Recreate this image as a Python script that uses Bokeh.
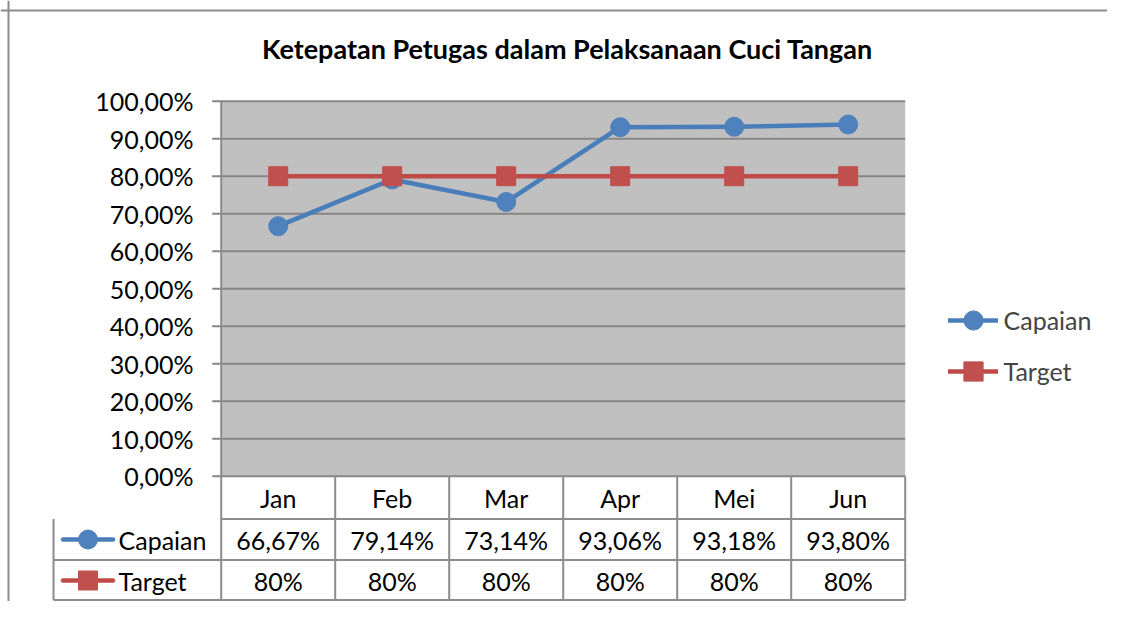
from bokeh.plotting import figure
from bokeh.models import Range1d, Label, Legend, LegendItem, Span
from bokeh.core.properties import value
from bokeh.embed import file_html
from bokeh.resources import INLINE

# ---------------- data ----------------
months = ["Jan", "Feb", "Mar", "Apr", "Mei", "Jun"]
capaian = [66.67, 79.14, 73.14, 93.06, 93.18, 93.80]
target = [80, 80, 80, 80, 80, 80]
y_ticks = [0, 10, 20, 30, 40, 50, 60, 70, 80, 90, 100]
series_names = ["Capaian", "Target"]
title_text = "Ketepatan Petugas dalam Pelaksanaan Cuci Tangan"


def pct2(v):
    return f"{v:.2f}%".replace(".", ",")


def pct0(v):
    return f"{v:.0f}%"


# ---------------- layout (screen px -> data units) ----------------
W, H = 1107, 601
COL = 114.0          # px per category column
FRAME_LEFT = 220.7   # screen x of plot-area left edge
PX_PER_PCT = 3.75    # px per 1 %
ZERO_Y = 475.7       # screen y of 0 %


def ux(px):
    return (px - FRAME_LEFT) / COL


def uy(py):
    return (ZERO_Y - py) / PX_PER_PCT


FONT = value("Lato")
FS = "25px"
GRID = "#868686"
BORDER = "#8C8C8C"
BLUE_L, BLUE_M = "#4A7EBB", "#4F81BD"
RED_L, RED_M = "#BE4B48", "#C0504D"

n = len(months)
xc = [i + 0.5 for i in range(n)]

p = figure(width=W, height=H,
           x_range=Range1d(ux(0), ux(W)), y_range=Range1d(uy(H), uy(0)),
           x_axis_type=None, y_axis_type=None, min_border=0,
           toolbar_location=None, output_backend="svg",
           outline_line_color=None)
p.background_fill_color = "white"
p.border_fill_color = "white"

# plot area
p.quad(left=[0], right=[n], bottom=[y_ticks[0]], top=[y_ticks[-1]],
       fill_color="#C0C0C0", line_color=None)

# gridlines + tick marks
p.segment(x0=[ux(211.7)] * len(y_ticks), x1=[n] * len(y_ticks),
          y0=y_ticks, y1=y_ticks, line_color=GRID, line_width=2)

# y tick labels
p.text(x=[ux(193)] * len(y_ticks), y=y_ticks, text=[pct2(t) for t in y_ticks],
       text_align="right", text_baseline="middle", text_font=FONT,
       text_font_size=FS, text_color="black")

# ---------------- data table ----------------
row_lines = [uy(518.5), uy(559.5), uy(599.5)]
hdr_y, cap_y, tgt_y = uy(497.5), uy(539), uy(580)
left_x = ux(53)

# horizontal lines
p.segment(x0=[0, left_x, left_x], x1=[n, n, n], y0=row_lines, y1=row_lines,
          line_color=BORDER, line_width=2)
# vertical lines
p.segment(x0=list(range(1, n + 1)), x1=list(range(1, n + 1)),
          y0=[0] * n, y1=[row_lines[-1]] * n, line_color=BORDER, line_width=2)
p.segment(x0=[0, left_x], x1=[0, left_x], y0=[y_ticks[-1], row_lines[0]],
          y1=[row_lines[-1], row_lines[-1]], line_color=BORDER, line_width=2)

p.text(x=xc, y=[hdr_y] * n, text=months, text_align="center",
       text_baseline="middle", text_font=FONT, text_font_size=FS)
p.text(x=xc, y=[cap_y] * n, text=[pct2(v) for v in capaian], text_align="center",
       text_baseline="middle", text_font=FONT, text_font_size=FS)
p.text(x=xc, y=[tgt_y] * n, text=[pct0(v) for v in target], text_align="center",
       text_baseline="middle", text_font=FONT, text_font_size=FS)

# table legend keys
kx0, kx1, kxm, ktx = ux(62.5), ux(112.5), ux(87.5), ux(118)
p.line(x=[kx0, kx1], y=[cap_y, cap_y], line_color=BLUE_L, line_width=4.5, line_cap="round")
p.scatter(x=[kxm], y=[cap_y], marker="circle", size=19, fill_color=BLUE_M, line_color=BLUE_M)
p.line(x=[kx0, kx1], y=[tgt_y, tgt_y], line_color=RED_L, line_width=4.5, line_cap="round")
p.scatter(x=[kxm], y=[tgt_y], marker="square", size=19, fill_color=RED_M, line_color=RED_M)
p.text(x=[ktx, ktx], y=[cap_y, tgt_y], text=series_names, text_align="left",
       text_baseline="middle", text_font=FONT, text_font_size=FS)

# ---------------- series ----------------
l1 = p.line(x=xc, y=capaian, line_color=BLUE_L, line_width=4.5, line_join="round", line_cap="round")
m1 = p.scatter(x=xc, y=capaian, marker="circle", size=19, fill_color=BLUE_M, line_color=BLUE_M)
l2 = p.line(x=xc, y=target, line_color=RED_L, line_width=4.5, line_join="round", line_cap="round")
m2 = p.scatter(x=xc, y=target, marker="square", size=19, fill_color=RED_M, line_color=RED_M)

legend = Legend(items=[LegendItem(label=series_names[0], renderers=[l1, m1]),
                       LegendItem(label=series_names[1], renderers=[l2, m2])],
                location=(947.5, 206.5), orientation="vertical",
                glyph_width=50, glyph_height=48, spacing=3, label_standoff=6,
                label_text_font="Lato", label_text_font_size=FS,
                label_text_baseline="middle",
                padding=0, margin=0, border_line_color=None,
                background_fill_alpha=0)
p.add_layout(legend)

# title
p.add_layout(Label(x=567, y=H - 48, x_units="screen", y_units="screen",
                   text=title_text, text_align="center", text_baseline="middle",
                   text_color="black",
                   text_font="Lato", text_font_style="bold", text_font_size="27px"))

# chart border (left & top)
p.add_layout(Span(location=8, dimension="height", location_units="screen",
                  line_color=BORDER, line_width=2))
p.add_layout(Span(location=H - 10, dimension="width", location_units="screen",
                  line_color=BORDER, line_width=2))

open("out.html", "w").write(file_html(p, INLINE))
